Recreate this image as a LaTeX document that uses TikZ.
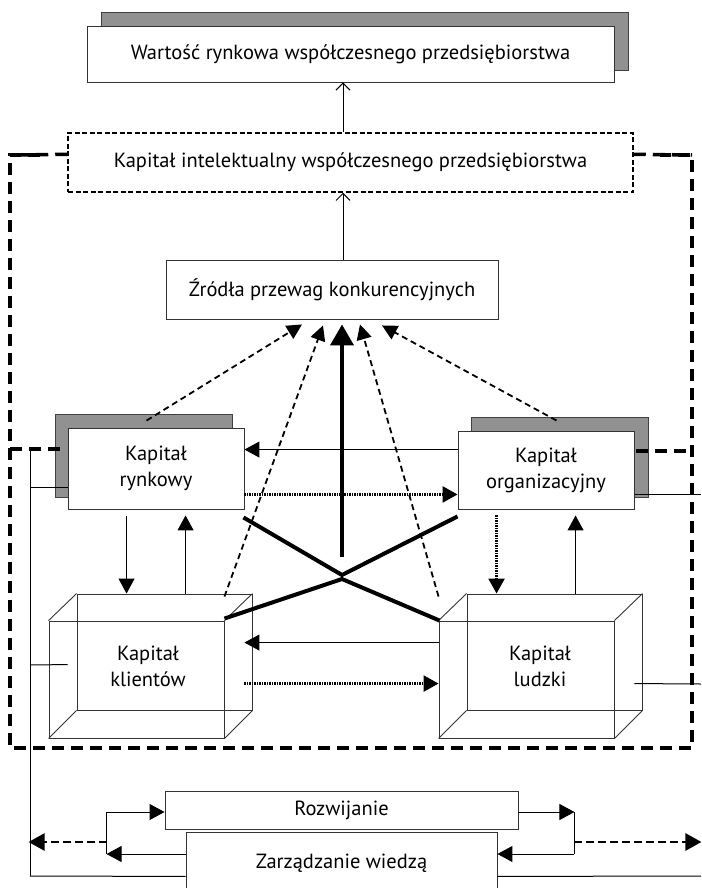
\documentclass[tikz,border=0pt]{standalone}
\usepackage{fontspec}
\setmainfont{PT Sans}
\usetikzlibrary{arrows.meta,calc}
\begin{document}
\begin{tikzpicture}[x=1pt,y=-1pt,
  thinln/.style={line width=1pt},
  box/.style={draw=black!80, line width=0.9pt, fill=white, inner sep=0pt},
  face/.style={draw=black!80, line width=0.9pt, inner sep=0pt},
  shadowbox/.style={draw=black!75, line width=0.9pt, fill=black!43},
  frame/.style={line width=3.5pt, dash pattern=on 12pt off 7pt},
  dbox/.style={draw=black, line width=1.5pt, dash pattern=on 5pt off 2.5pt, fill=white, inner sep=0pt},
  tip/.style={thinln, -{Triangle[length=15pt,width=16pt]}},
  opentip/.style={thinln, -{Straight Barb[length=7pt,width=14pt]}},
  dasharrow/.style={line width=1.8pt, dash pattern=on 6pt off 4pt, -{Triangle[length=15pt,width=15pt]}},
  bdash/.style={line width=2.7pt, dash pattern=on 8pt off 4pt, -{Triangle[length=16pt,width=17pt]}},
  dotarrow/.style={line width=2.4pt, dash pattern=on 1.5pt off 1pt, -{Triangle[length=15pt,width=16pt]}},
  thickln/.style={line width=4pt},
  lbl/.style={font=\fontsize{20.5}{26}\selectfont, align=center},
]
\useasboundingbox (0,0) rectangle (701,888);

% top boxes
\fill[shadowbox] (101,12) rectangle (628,70);
\node[box, minimum width=527pt, minimum height=56pt, lbl] (war) at (350.5,54) {Wartość rynkowa współczesnego przedsiębiorstwa};

% big dashed frame
\draw[frame] (40,155) -- (10,155) -- (10,748) -- (692,748) -- (692,155) -- (660,155);
\node[dbox, minimum width=565pt, minimum height=59pt, lbl] (kint) at (350.5,162.5) {Kapitał intelektualny współczesnego przedsiębiorstwa};
\draw[frame] ($(kint.north west)+(0,22)$) -- (10,155);
\draw[frame] ($(kint.north east)+(0,22)$) -- (692,155);

\node[box, minimum width=332pt, minimum height=59pt, lbl] (zro) at (332,289.5) {Źródła przewag konkurencyjnych};

% shadows of middle boxes
\fill[shadowbox] (55,414) rectangle (232,497);
\fill[shadowbox] (471,417) rectangle (648,497);

% inner dashed connections to frame
\draw[frame] (10,449) -- (66,449);
\draw[frame] (636,451) -- (692,451);

% thin side lines
\draw[thinln] (30,450) -- (30,876);
\draw[thinln] (30,487) -- (68,487);
\draw[thinln] (634,494) -- (701,494);

\node[box, minimum width=176pt, minimum height=81pt, lbl] (ryn) at (156,468.5) {Kapitał\\rynkowy};
\node[box, minimum width=176pt, minimum height=78pt, lbl] (org) at (546,470) {Kapitał\\organizacyjny};

% cubes
\node[face, minimum width=175pt, minimum height=116pt] (klib) at (164.5,652) {};
\node[face, minimum width=175pt, minimum height=117pt] (klif) at (136.5,679.5) {};
\foreach \a in {north west, north east, south west, south east}
  \draw[black!80, line width=0.9pt] (klif.\a) -- (klib.\a);
\node[face, minimum width=175pt, minimum height=116pt] (ludb) at (554.5,652) {};
\node[face, minimum width=175pt, minimum height=117pt] (ludf) at (526.5,679.5) {};
\foreach \a in {north west, north east, south west, south east}
  \draw[black!80, line width=0.9pt] (ludf.\a) -- (ludb.\a);
\node[lbl] (kli) at (148,666) {Kapitał\\klientów};
\node[lbl] (lud) at (540,666) {Kapitał\\ludzki};

\draw[thinln] (30,665) -- ($(klif.north west)+(19,44)$);
\draw[thinln] ($(ludb.north east)+(-8,90)$) -- (701,684);

% arrows up
\draw[opentip] ($(kint.north)+(-7.5,0)$) -- ($(war.south)+(-7.5,0)$);
\draw[opentip] ($(zro.north)+(11,0)$) -- ($(kint.south)+(-7.5,0)$);

% horizontal arrows between boxes
\draw[tip] ($(org.north west)+(0,19)$) -- ($(ryn.north east)+(0,22)$);
\draw[dotarrow] ($(ryn.south east)+(0,-15)$) -- ($(org.south west)+(0,-15)$);
\draw[tip] ($(ludf.north west)+(0,22)$) -- ($(klib.north east)+(-8,49)$);
\draw[dotarrow] ($(klib.north east)+(-8,90)$) -- ($(ludf.north west)+(0,63)$);

% vertical arrows
\draw[tip] ($(ryn.south west)+(59,7)$) -- ($(klib.north west)+(50,0)$);
\draw[tip] ($(klib.north west)+(109,0)$) -- ($(ryn.south west)+(118,6)$);
\draw[dotarrow] ($(org.south west)+(39,6)$) -- ($(ludb.north west)+(30,0)$);
\draw[tip] ($(ludb.north west)+(109,0)$) -- ($(org.south west)+(118,6)$);

% thick cross
\coordinate (xa) at (342,575);
\coordinate (xb) at (342,579);
\draw[thickln] ($(ryn.south east)+(-1,8)$) -- (xa) -- ($(org.south west)+(0,7)$);
\draw[thickln] ($(klif.north east)+(0,-2)$) -- (xb) -- ($(ludf.north west)+(1,0)$);

% arrows into sources
\draw[dasharrow] ($(ryn.north west)+(79,-7)$) -- ($(zro.south)+(-30,5)$);
\draw[dasharrow] ($(klif.north east)+(0,-24)$) -- ($(zro.south)+(-9,6)$);
\draw[thickln, -{Triangle[length=21pt,width=23pt]}] ($(zro.south)+(10,238)$) -- ($(zro.south)+(10,5)$);
\draw[dasharrow] ($(ludf.north west)+(0,-24)$) -- ($(zro.south)+(28,5)$);
\draw[dasharrow] ($(org.north west)+(99,-10)$) -- ($(zro.south)+(50,6)$);

% bottom
\node[box, minimum width=353pt, minimum height=38pt, lbl] (roz) at (341.5,810) {Rozwijanie};
\node[box, minimum width=311pt, minimum height=62pt, lbl] (zar) at (341.5,863) {Zarządzanie wiedzą};
\draw[thinln] (30,876) -- ($(zar.south west)+(0,-18)$);
\draw[thinln] ($(zar.south east)+(0,-18)$) -- (701,876);

\draw[tip] ($(roz.west)+(-58,2)$) -- ($(roz.west)+(0,2)$);
\draw[thinln] ($(roz.west)+(-58,2)$) -- ($(roz.west)+(-58,44)$);
\draw[tip] ($(zar.west)+(0,-9)$) -- ($(roz.west)+(-58,44)$);
\draw[bdash] ($(roz.west)+(-58,32)$) -- ($(roz.west)+(-136,32)$);

\draw[tip] ($(roz.east)+(0,2)$) -- ($(roz.east)+(56,2)$);
\draw[thinln] ($(roz.east)+(56,2)$) -- ($(roz.east)+(56,44)$);
\draw[tip] ($(roz.east)+(56,44)$) -- ($(zar.east)+(0,-9)$);
\draw[bdash] ($(roz.east)+(56,32)$) -- ($(roz.east)+(183,32)$);
\end{tikzpicture}
\end{document}
